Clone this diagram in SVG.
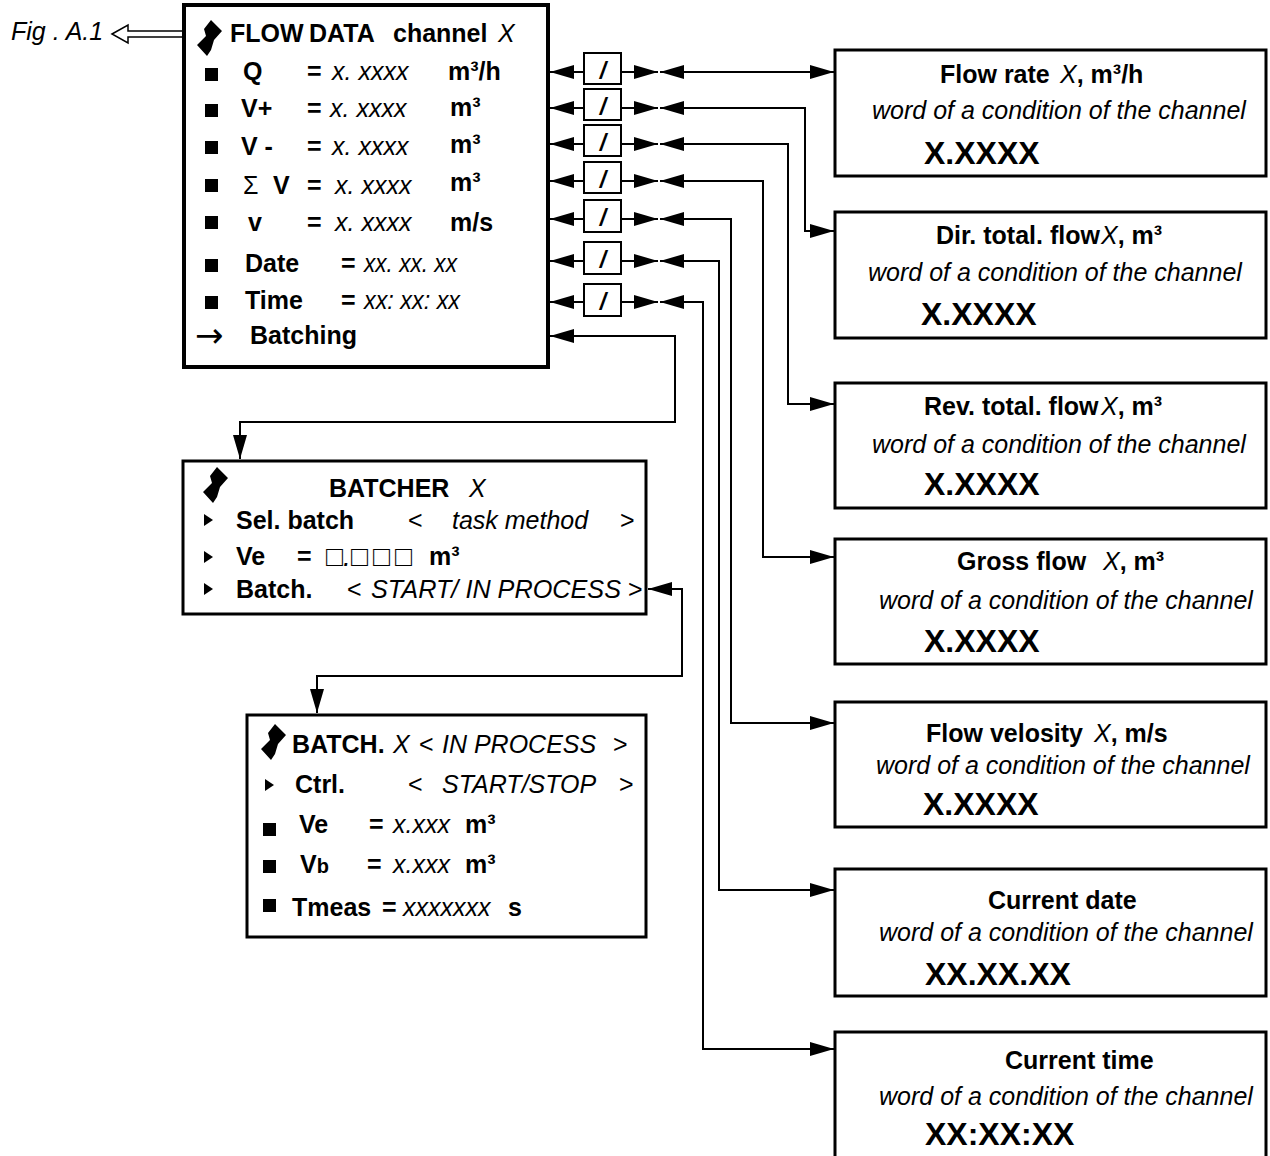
<svg xmlns="http://www.w3.org/2000/svg" width="1270" height="1156" viewBox="0 0 1270 1156">
<style>
text{font-family:"Liberation Sans",Arial,sans-serif;font-size:25px;fill:#000}
.b{font-weight:bold}
.i{font-style:italic;font-weight:normal}
.n{font-weight:normal}
.v{font-weight:bold;font-size:32px}
.box{fill:#fff;stroke:#000;stroke-width:3}
.main{fill:#fff;stroke:#000;stroke-width:4}
.ln{fill:none;stroke:#000;stroke-width:2}
.sm{fill:#fff;stroke:#000;stroke-width:2}
.sl{font-weight:bold;font-style:italic;font-size:23px;text-anchor:middle}
</style>
<defs>
<marker id="a" viewBox="0 0 24 14" refX="24" refY="7" markerWidth="24" markerHeight="14" markerUnits="userSpaceOnUse" orient="auto-start-reverse">
<path d="M0,0 L24,7 L0,14 Z" fill="#000"/>
</marker>
<path id="flag" d="M14,0 L25,11 L17,20 L14,30 L10,36 L0,25 L9,16 L7,9 Z" fill="#000"/>
<rect id="sq" width="13" height="13" fill="#000"/>
<path id="tri" d="M0,-6 L9,0 L0,6 Z" fill="#000"/>
</defs>

<g id="fig-label">
<text class="i" x="11" y="40">Fig . A.1</text>
<polygon points="112,34 128,25 128,31 184,31 184,37 128,37 128,43" fill="#fff" stroke="#000" stroke-width="1.5"/>
</g>

<g id="flow-data">
<rect class="main" x="184" y="5" width="364" height="362"/>
<use href="#flag" x="197" y="20"/>
<text class="b" y="42"><tspan x="230">FLOW</tspan><tspan x="309">DATA</tspan><tspan x="393">channel</tspan><tspan x="498" class="i">X</tspan></text>
<use href="#sq" x="205" y="68"/>
<use href="#sq" x="205" y="104"/>
<use href="#sq" x="205" y="141"/>
<use href="#sq" x="205" y="179"/>
<use href="#sq" x="205" y="216"/>
<use href="#sq" x="205" y="259"/>
<use href="#sq" x="205" y="296"/>
<text class="b" y="80"><tspan x="243">Q</tspan><tspan x="307">=</tspan><tspan x="332" class="i">x. xxxx</tspan><tspan x="448">m³/h</tspan></text>
<text class="b" y="117"><tspan x="241">V+</tspan><tspan x="307">=</tspan><tspan x="330" class="i">x. xxxx</tspan><tspan x="450" dy="-1">m³</tspan></text>
<text class="b" y="155"><tspan x="241">V -</tspan><tspan x="307">=</tspan><tspan x="332" class="i">x. xxxx</tspan><tspan x="450" dy="-2">m³</tspan></text>
<text class="b" y="194"><tspan x="243" class="n">Σ</tspan><tspan x="273">V</tspan><tspan x="307">=</tspan><tspan x="335" class="i">x. xxxx</tspan><tspan x="450" dy="-3">m³</tspan></text>
<text class="b" y="231"><tspan x="248">v</tspan><tspan x="307">=</tspan><tspan x="335" class="i">x. xxxx</tspan><tspan x="450">m/s</tspan></text>
<text class="b" y="272"><tspan x="245">Date</tspan><tspan x="341">=</tspan></text>
<text class="i" x="364" y="272" textLength="93" lengthAdjust="spacingAndGlyphs">xx. xx. xx</text>
<text class="b" y="309"><tspan x="245">Time</tspan><tspan x="341">=</tspan></text>
<text class="i" x="364" y="309" textLength="96" lengthAdjust="spacingAndGlyphs">xx: xx: xx</text>
<text class="n" x="195" y="347" style="font-family:'DejaVu Sans',sans-serif;font-size:34px">→</text>
<text class="b" x="250" y="344">Batching</text>
</g>

<g id="batcher">
<rect class="box" x="183" y="461" width="463" height="153"/>
<use href="#flag" x="203" y="467"/>
<text class="b" y="497"><tspan x="329">BATCHER</tspan><tspan x="469" class="i">X</tspan></text>
<use href="#tri" x="204" y="520"/>
<use href="#tri" x="204" y="557"/>
<use href="#tri" x="204" y="589"/>
<text class="b" y="529"><tspan x="236">Sel. batch</tspan><tspan x="408" class="n">&lt;</tspan><tspan x="452" class="i">task method</tspan><tspan x="620" class="n">&gt;</tspan></text>
<text class="b" y="565"><tspan x="236">Ve</tspan><tspan x="297">=</tspan><tspan x="429">m³</tspan></text>
<text class="i" x="326 343 351 373 395" y="566" style="font-size:28px">□.□□□</text>
<text class="b" y="598"><tspan x="236">Batch.</tspan><tspan x="347" class="n">&lt;</tspan><tspan x="628" class="n">&gt;</tspan></text>
<text class="i" x="371" y="598" textLength="250" lengthAdjust="spacingAndGlyphs">START/ IN PROCESS</text>
</g>

<g id="batch">
<rect class="box" x="247" y="715" width="399" height="222"/>
<use href="#flag" x="261" y="724"/>
<text class="b" y="753"><tspan x="292">BATCH.</tspan><tspan x="393" class="i">X</tspan><tspan x="419" class="n">&lt;</tspan><tspan x="442" class="i">IN PROCESS</tspan><tspan x="613" class="n">&gt;</tspan></text>
<use href="#tri" x="265" y="785"/>
<text class="b" y="793"><tspan x="295">Ctrl.</tspan><tspan x="408" class="n">&lt;</tspan><tspan x="442" class="i">START/STOP</tspan><tspan x="619" class="n">&gt;</tspan></text>
<use href="#sq" x="263" y="823"/>
<use href="#sq" x="263" y="860"/>
<use href="#sq" x="263" y="899"/>
<text class="b" y="833"><tspan x="299">Ve</tspan><tspan x="369">=</tspan><tspan x="393" class="i">x.xxx</tspan><tspan x="465">m³</tspan></text>
<text class="b" y="873"><tspan x="300">V</tspan><tspan style="font-size:20px">b</tspan><tspan x="367">=</tspan><tspan x="393" class="i">x.xxx</tspan><tspan x="465">m³</tspan></text>
<text class="b" y="916"><tspan x="292">Tmeas</tspan><tspan x="382">=</tspan><tspan x="403" class="i">xxxxxxx</tspan><tspan x="508">s</tspan></text>
</g>

<g id="switches">
<rect class="sm" x="584" y="53" width="37" height="31"/>
<rect class="sm" x="584" y="89" width="37" height="31"/>
<rect class="sm" x="584" y="125" width="37" height="31"/>
<rect class="sm" x="584" y="162" width="37" height="31"/>
<rect class="sm" x="584" y="200" width="37" height="32"/>
<rect class="sm" x="584" y="242" width="37" height="32"/>
<rect class="sm" x="584" y="284" width="37" height="32"/>
<text class="sl" x="603" y="79">/</text>
<text class="sl" x="603" y="115">/</text>
<text class="sl" x="603" y="151">/</text>
<text class="sl" x="603" y="188">/</text>
<text class="sl" x="603" y="226">/</text>
<text class="sl" x="603" y="268">/</text>
<text class="sl" x="603" y="310">/</text>
</g>

<g id="flow-rate">
<rect class="box" x="835" y="50" width="431" height="126"/>
<text class="b" y="83"><tspan x="940">Flow rate</tspan><tspan x="1060" class="i">X</tspan><tspan>, m³/h</tspan></text>
<text class="i" x="872" y="119">word of a condition of the channel</text>
<text class="v" x="924" y="164">X.XXXX</text>
</g>
<g id="dir-total-flow">
<rect class="box" x="835" y="212" width="431" height="126"/>
<text class="b" y="244"><tspan x="936">Dir. total. flow</tspan><tspan x="1101" class="i">X</tspan><tspan>, m³</tspan></text>
<text class="i" x="868" y="281">word of a condition of the channel</text>
<text class="v" x="921" y="325">X.XXXX</text>
</g>
<g id="rev-total-flow">
<rect class="box" x="835" y="383" width="431" height="125"/>
<text class="b" y="415"><tspan x="924">Rev. total. flow</tspan><tspan x="1101" class="i">X</tspan><tspan>, m³</tspan></text>
<text class="i" x="872" y="453">word of a condition of the channel</text>
<text class="v" x="924" y="495">X.XXXX</text>
</g>
<g id="gross-flow">
<rect class="box" x="835" y="539" width="431" height="125"/>
<text class="b" y="570"><tspan x="957">Gross flow</tspan><tspan x="1103" class="i">X</tspan><tspan>, m³</tspan></text>
<text class="i" x="879" y="609">word of a condition of the channel</text>
<text class="v" x="924" y="652">X.XXXX</text>
</g>
<g id="flow-velosity">
<rect class="box" x="835" y="702" width="431" height="125"/>
<text class="b" y="742"><tspan x="926">Flow velosity</tspan><tspan x="1094" class="i">X</tspan><tspan>, m/s</tspan></text>
<text class="i" x="876" y="774">word of a condition of the channel</text>
<text class="v" x="923" y="815">X.XXXX</text>
</g>
<g id="current-date">
<rect class="box" x="835" y="869" width="431" height="127"/>
<text class="b" x="988" y="909">Current date</text>
<text class="i" x="879" y="941">word of a condition of the channel</text>
<text class="v" x="925" y="985">XX.XX.XX</text>
</g>
<g id="current-time">
<rect class="box" x="835" y="1032" width="431" height="140"/>
<text class="b" x="1005" y="1069">Current time</text>
<text class="i" x="879" y="1105">word of a condition of the channel</text>
<text class="v" x="925" y="1145">XX:XX:XX</text>
</g>

<g id="connectors" class="ln">
<path d="M584,72 H550" marker-end="url(#a)"/>
<path d="M584,108 H550" marker-end="url(#a)"/>
<path d="M584,144 H550" marker-end="url(#a)"/>
<path d="M584,181 H550" marker-end="url(#a)"/>
<path d="M584,219 H550" marker-end="url(#a)"/>
<path d="M584,261 H550" marker-end="url(#a)"/>
<path d="M584,302 H550" marker-end="url(#a)"/>
<path d="M621,72 H658" marker-end="url(#a)"/>
<path d="M621,108 H658" marker-end="url(#a)"/>
<path d="M621,144 H658" marker-end="url(#a)"/>
<path d="M621,181 H658" marker-end="url(#a)"/>
<path d="M621,219 H658" marker-end="url(#a)"/>
<path d="M621,261 H658" marker-end="url(#a)"/>
<path d="M621,302 H658" marker-end="url(#a)"/>
<path d="M660,72 H834" marker-start="url(#a)" marker-end="url(#a)"/>
<path d="M660,108 H805 V231 H834" marker-start="url(#a)" marker-end="url(#a)"/>
<path d="M660,144 H788 V404 H834" marker-start="url(#a)" marker-end="url(#a)"/>
<path d="M660,181 H763 V557 H834" marker-start="url(#a)" marker-end="url(#a)"/>
<path d="M660,219 H731 V723 H834" marker-start="url(#a)" marker-end="url(#a)"/>
<path d="M660,261 H719 V890 H834" marker-start="url(#a)" marker-end="url(#a)"/>
<path d="M660,302 H703 V1049 H834" marker-start="url(#a)" marker-end="url(#a)"/>
<path d="M550,336 H675 V422 H240 V459" marker-start="url(#a)" marker-end="url(#a)"/>
<path d="M648,589 H682 V676 H317 V713" marker-start="url(#a)" marker-end="url(#a)"/>
</g>
</svg>
